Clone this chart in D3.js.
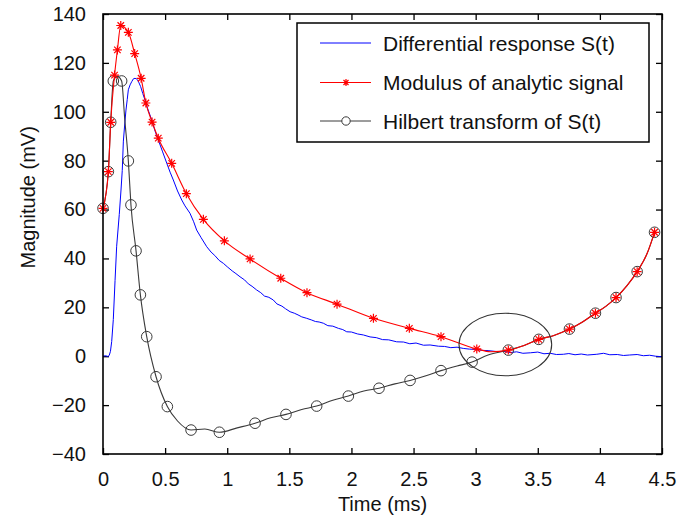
<!DOCTYPE html>
<html>
<head>
<meta charset="utf-8">
<script src="https://cdn.jsdelivr.net/npm/d3@7"></script>
<style>
  body { margin: 0; background: #fff; }
  svg { display: block; font-family: "Liberation Sans", Arial, sans-serif; }
</style>
</head>
<body>
<svg id="chart" width="694" height="525"></svg>
<script>
// Values, [time in ms, magnitude in mV]
var xTicks = [0, 0.5, 1, 1.5, 2, 2.5, 3, 3.5, 4, 4.5];
var yTicks = [-40, -20, 0, 20, 40, 60, 80, 100, 120, 140];

var seriesNames = ["Differential response S(t)", "Modulus of analytic signal", "Hilbert transform of S(t)"];

// Differential response S(t), noisy trace
var response = [
  [0, 0], [0.02, 0.2], [0.04, -0.1], [0.05, 0.3], [0.06, 2], [0.07, 6], [0.083, 15], [0.097, 31],
  [0.11, 45], [0.131, 58], [0.145, 68], [0.155, 76], [0.164, 88], [0.175, 95], [0.185, 100.7],
  [0.195, 105], [0.204, 109], [0.218, 111], [0.231, 112.3], [0.245, 113.5], [0.258, 113.7],
  [0.27, 113.4], [0.279, 113], [0.29, 111.8], [0.303, 110.3], [0.32, 107.5], [0.338, 104.8],
  [0.36, 101.2], [0.392, 96.7], [0.42, 92], [0.445, 88.5], [0.48, 83.6], [0.513, 79], [0.54, 75.3],
  [0.566, 72.1], [0.6, 67.6], [0.634, 63.9], [0.66, 61.5], [0.7, 58.5], [0.73, 55], [0.754, 51.6],
  [0.79, 48.5], [0.835, 44.8], [0.87, 42.6], [0.9, 41.2], [0.935, 39.2], [0.969, 38], [1.0, 36.6],
  [1.04, 34.9], [1.07, 33.8], [1.103, 32.5], [1.14, 31.2], [1.17, 29.6], [1.2, 28.6], [1.237, 27.1],
  [1.27, 26.0], [1.3, 24.6], [1.335, 24.1], [1.371, 23], [1.4, 21.4], [1.44, 20.5], [1.47, 19.4],
  [1.506, 18.2], [1.54, 17.6], [1.57, 16.9], [1.6, 16.1], [1.64, 15.5], [1.68, 14.8], [1.71, 14.2],
  [1.74, 14.0], [1.774, 13.5], [1.81, 12.5], [1.85, 12.3], [1.895, 11.4], [1.93, 10.9], [1.962, 10],
  [2.0, 9.9], [2.05, 9.1], [2.096, 8.7], [2.15, 7.9], [2.2, 7.6], [2.25, 6.8], [2.3, 6.7],
  [2.364, 5.9], [2.42, 5.8], [2.47, 5.1], [2.52, 5.4], [2.58, 4.5], [2.633, 4.6], [2.7, 4.1],
  [2.75, 4.0], [2.8, 3.5], [2.85, 3.7], [2.9, 3.2], [2.95, 2.9], [3.0, 2.8], [3.05, 2.4], [3.1, 2.3],
  [3.17, 1.9], [3.22, 2.0], [3.28, 1.5], [3.33, 1.8], [3.38, 1.2], [3.44, 1.4], [3.5, 1.7],
  [3.55, 1.0], [3.6, 1.2], [3.65, 0.7], [3.706, 0.8], [3.75, 1.1], [3.8, 0.6], [3.85, 0.9],
  [3.9, 0.5], [3.975, 0.8], [4.03, 1.2], [4.08, 0.6], [4.14, 0.7], [4.19, 0.3], [4.24, 0.5],
  [4.3, 0.7], [4.35, 0.2], [4.4, 0.4], [4.45, 0.0], [4.5, -0.2]
];

// Modulus of analytic signal: line points and star markers
var modulus = [
  [0, 60.5], [0.043, 75.5], [0.062, 95.7], [0.093, 115], [0.116, 125.3], [0.143, 135.3],
  [0.204, 132.5], [0.255, 123.8], [0.307, 113.7], [0.345, 103.6], [0.395, 95.8], [0.445, 89.2],
  [0.553, 78.9], [0.671, 66.5], [0.808, 56], [0.977, 47.2], [1.184, 39.8], [1.431, 31.9],
  [1.642, 26], [1.884, 21.3], [2.177, 15.5], [2.466, 11.4], [2.721, 8], [3.009, 3], [3.12, 1.8],
  [3.263, 2.5], [3.39, 4.4], [3.508, 6.9], [3.63, 8.5], [3.755, 11.1], [3.86, 14], [3.964, 17.6],
  [4.05, 20.5], [4.13, 24], [4.22, 29], [4.3, 34.6], [4.38, 42], [4.44, 50.7]
];
var modulusMarks = [
  [0, 60.5], [0.043, 75.5], [0.062, 95.7], [0.093, 115], [0.116, 125.3], [0.143, 135.3],
  [0.204, 132.5], [0.255, 123.8], [0.307, 113.7], [0.345, 103.6], [0.395, 95.8], [0.445, 89.2],
  [0.553, 78.9], [0.671, 66.5], [0.808, 56], [0.977, 47.2], [1.184, 39.8], [1.431, 31.9],
  [1.642, 26], [1.884, 21.3], [2.177, 15.5], [2.466, 11.4], [2.721, 8], [3.009, 3],
  [3.263, 2.5], [3.508, 6.9], [3.755, 11.1], [3.964, 17.6], [4.13, 24], [4.3, 34.6], [4.44, 50.7]
];

// Hilbert transform of S(t): line points and circle markers
var hilbert = [
  [0, 60.5], [0.043, 75.5], [0.062, 95.7], [0.083, 112.6], [0.115, 114.5], [0.15, 112.6],
  [0.175, 97], [0.204, 79.9], [0.225, 61.9], [0.266, 43.1], [0.301, 25.1], [0.352, 8],
  [0.427, -8.4], [0.518, -20.6], [0.6, -26.5], [0.709, -30.2], [0.82, -29.8], [0.937, -31.1],
  [1.08, -29.3], [1.224, -27.4], [1.35, -25.2], [1.473, -23.8], [1.6, -21.8], [1.72, -20.4],
  [1.85, -18], [1.975, -16.3], [2.1, -14.2], [2.222, -13.1], [2.35, -11.3], [2.472, -9.9],
  [2.6, -8], [2.721, -5.9], [2.85, -4], [2.971, -2.4], [3.1, 0.5], [3.263, 2.5], [3.39, 4.4],
  [3.508, 6.9], [3.63, 8.5], [3.755, 11.1], [3.86, 14], [3.964, 17.6], [4.05, 20.5], [4.13, 24],
  [4.22, 29], [4.3, 34.6], [4.38, 42], [4.44, 50.7]
];
var hilbertMarks = [
  [0, 60.5], [0.043, 75.5], [0.062, 95.7], [0.083, 112.6], [0.15, 112.6], [0.204, 79.9],
  [0.225, 61.9], [0.266, 43.1], [0.301, 25.1], [0.352, 8], [0.427, -8.4], [0.518, -20.6],
  [0.709, -30.2], [0.937, -31.1], [1.224, -27.4], [1.473, -23.8], [1.72, -20.4], [1.975, -16.3],
  [2.222, -13.1], [2.472, -9.9], [2.721, -5.9], [2.971, -2.4], [3.263, 2.5], [3.508, 6.9],
  [3.755, 11.1], [3.964, 17.6], [4.13, 24], [4.3, 34.6], [4.44, 50.7]
];

// the hand-drawn ellipse round the crossing: centre and half axes in data units
var ellipse = { t: 3.239, v: 4.8, rt: 0.373, rv: 12.8 };

var svg = d3.select("#chart");
var plotLeft = 103, plotRight = 662, plotTop = 14, plotBottom = 454;

var x = d3.scaleLinear().domain([0, 4.5]).range([plotLeft, plotRight]);
var y = d3.scaleLinear().domain([-40, 140]).range([plotBottom, plotTop]);

var blue = "#0000ff", red = "#ff0000", grey = "#3a3a3a";

// axes, ticks pointing inwards on all four sides
svg.append("g")
  .attr("transform", "translate(0," + plotBottom + ")")
  .call(d3.axisBottom(x).tickValues(xTicks).tickFormat(d3.format("")).tickSizeInner(-6).tickSizeOuter(0).tickPadding(18));
svg.append("g")
  .attr("transform", "translate(0," + plotTop + ")")
  .call(d3.axisTop(x).tickValues(xTicks).tickFormat("").tickSizeInner(-6).tickSizeOuter(0));
svg.append("g")
  .attr("transform", "translate(" + plotLeft + ",0)")
  .call(d3.axisLeft(y).tickValues(yTicks).tickSizeInner(-6).tickSizeOuter(0).tickPadding(17));
svg.append("g")
  .attr("transform", "translate(" + plotRight + ",0)")
  .call(d3.axisRight(y).tickValues(yTicks).tickFormat("").tickSizeInner(-6).tickSizeOuter(0));

svg.selectAll(".domain").remove();
svg.selectAll(".tick line").attr("stroke", "#000").attr("stroke-width", 1.3);
svg.selectAll(".tick text").attr("font-size", 20).attr("fill", "#111")
  .attr("font-family", "'Liberation Sans', Arial, sans-serif");

var line = d3.line().x(d => x(d[0])).y(d => y(d[1]));
var smooth = d3.line().x(d => x(d[0])).y(d => y(d[1])).curve(d3.curveMonotoneX);

var plot = svg.append("g");

plot.append("path").datum(response)
  .attr("d", line).attr("fill", "none").attr("stroke", blue).attr("stroke-width", 1);

plot.append("path").datum(hilbert)
  .attr("d", smooth).attr("fill", "none").attr("stroke", grey).attr("stroke-width", 1.1);

plot.selectAll(".hmark").data(hilbertMarks).join("circle")
  .attr("class", "hmark")
  .attr("cx", d => x(d[0])).attr("cy", d => y(d[1])).attr("r", 5.3)
  .attr("fill", "none").attr("stroke", grey).attr("stroke-width", 1);

plot.append("path").datum(modulus)
  .attr("d", smooth).attr("fill", "none").attr("stroke", red).attr("stroke-width", 1.1);

function star(g, cx, cy, s) {
  var d = s * 0.72;
  g.append("path")
    .attr("d", "M" + (cx - s) + "," + cy + "H" + (cx + s) +
               "M" + cx + "," + (cy - s) + "V" + (cy + s) +
               "M" + (cx - d) + "," + (cy - d) + "L" + (cx + d) + "," + (cy + d) +
               "M" + (cx - d) + "," + (cy + d) + "L" + (cx + d) + "," + (cy - d))
    .attr("stroke", red).attr("stroke-width", 1.2).attr("fill", "none");
}
modulusMarks.forEach(d => star(plot, x(d[0]), y(d[1]), 4.5));

// ellipse
svg.append("ellipse")
  .attr("cx", x(ellipse.t)).attr("cy", y(ellipse.v))
  .attr("rx", x(ellipse.t + ellipse.rt) - x(ellipse.t))
  .attr("ry", y(ellipse.v) - y(ellipse.v + ellipse.rv))
  .attr("fill", "none").attr("stroke", "#333").attr("stroke-width", 1.1);

// frame
svg.append("rect")
  .attr("x", plotLeft).attr("y", plotTop).attr("width", plotRight - plotLeft).attr("height", plotBottom - plotTop)
  .attr("fill", "none").attr("stroke", "#000").attr("stroke-width", 1.6);

// legend
var lg = svg.append("g");
lg.append("rect").attr("x", 297).attr("y", 23).attr("width", 352).attr("height", 119)
  .attr("fill", "#fff").attr("stroke", "#000").attr("stroke-width", 1.5);
var rows = [43, 82.5, 121];
var colors = [blue, red, grey];
rows.forEach(function (ry, i) {
  lg.append("line").attr("x1", 320).attr("x2", 371).attr("y1", ry).attr("y2", ry)
    .attr("stroke", colors[i]).attr("stroke-width", 1);
  lg.append("text").attr("x", 383).attr("y", ry + 7.5)
    .attr("font-size", 21).attr("fill", "#111").text(seriesNames[i]);
});
star(lg, 346, rows[1], 3.5);
lg.append("circle").attr("cx", 346).attr("cy", rows[2]).attr("r", 4.2)
  .attr("fill", "#fff").attr("stroke", grey).attr("stroke-width", 1);

// axis titles
svg.append("text").attr("x", (plotLeft + plotRight) / 2).attr("y", 511)
  .attr("text-anchor", "middle").attr("font-size", 20).attr("fill", "#111").text("Time (ms)");
svg.append("text").attr("transform", "translate(35," + y(65) + ") rotate(-90)")
  .attr("text-anchor", "middle").attr("font-size", 20).attr("fill", "#111").text("Magnitude (mV)");
</script>
</body>
</html>
